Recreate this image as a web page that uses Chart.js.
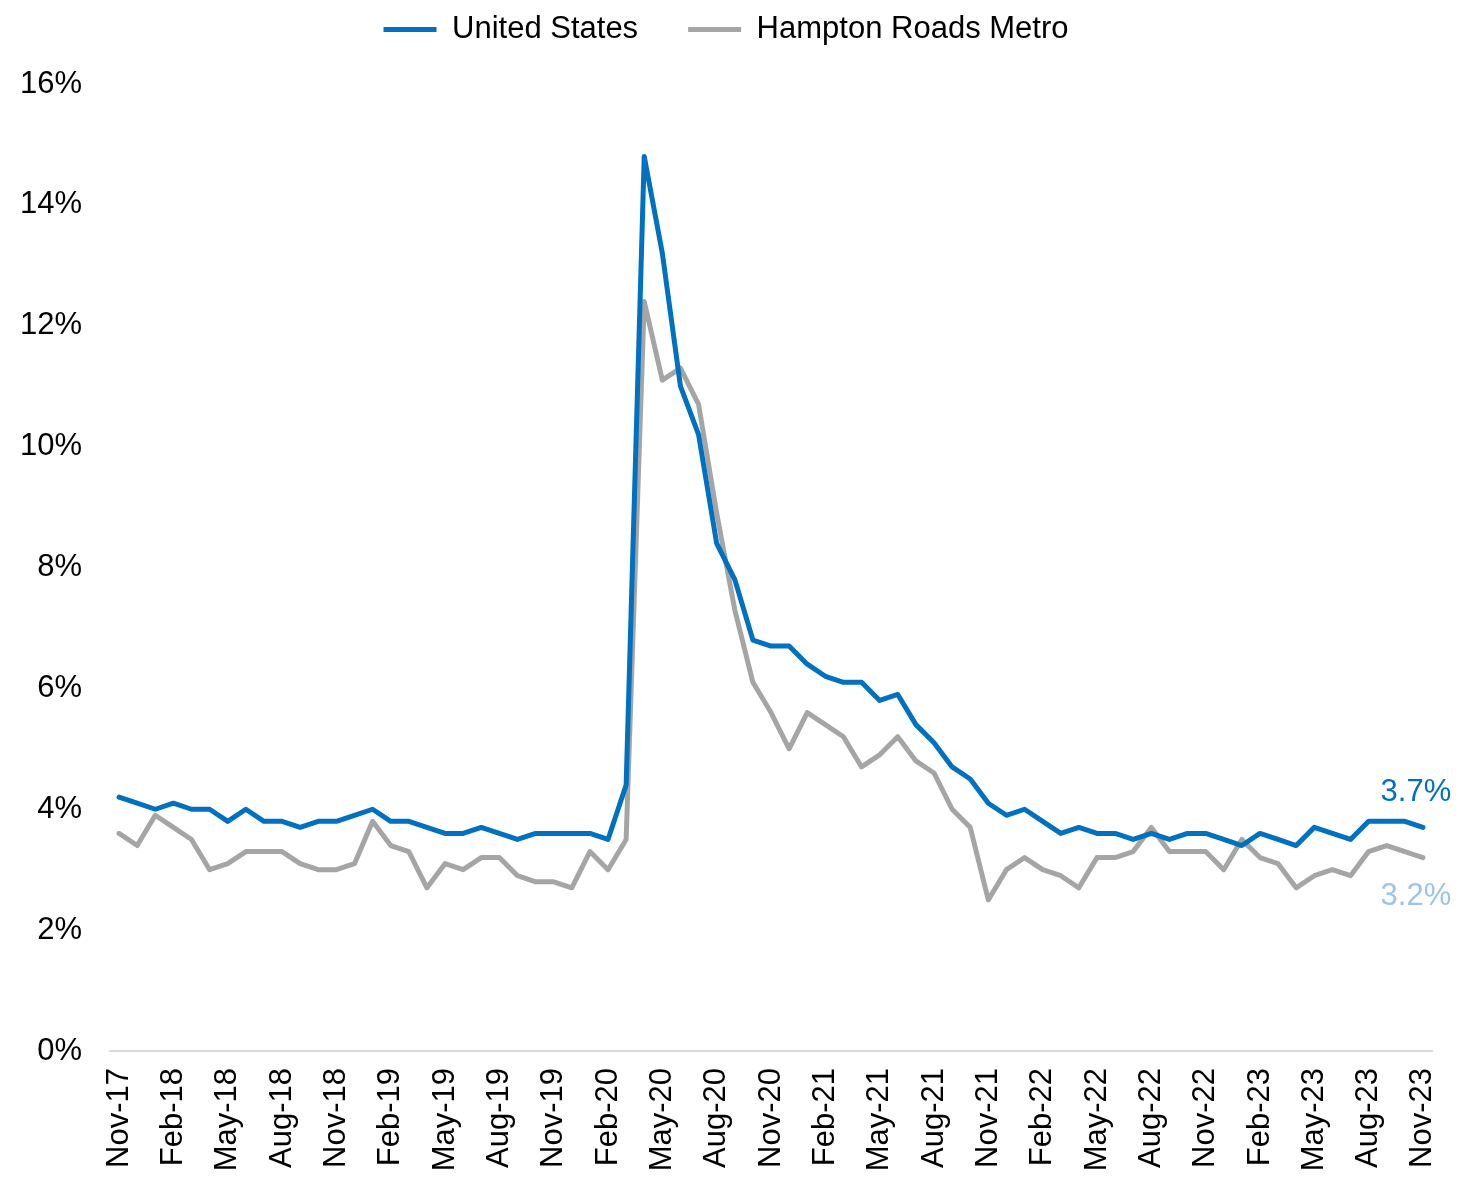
<!DOCTYPE html>
<html>
<head>
<meta charset="utf-8">
<title>Unemployment Rate: United States vs Hampton Roads Metro</title>
<script src="https://cdn.jsdelivr.net/npm/chart.js@4.4.1/dist/chart.umd.min.js"></script>
<style>
  html, body { margin: 0; padding: 0; background: #ffffff; }
  #wrap { width: 1457px; height: 1178px; position: relative; }
</style>
</head>
<body>
<div id="wrap"><canvas id="chart"></canvas></div>
<script>
// Monthly categories, Nov-17 through Nov-23
const months = [
  'Nov-17','Dec-17',
  'Jan-18','Feb-18','Mar-18','Apr-18','May-18','Jun-18','Jul-18','Aug-18','Sep-18','Oct-18','Nov-18','Dec-18',
  'Jan-19','Feb-19','Mar-19','Apr-19','May-19','Jun-19','Jul-19','Aug-19','Sep-19','Oct-19','Nov-19','Dec-19',
  'Jan-20','Feb-20','Mar-20','Apr-20','May-20','Jun-20','Jul-20','Aug-20','Sep-20','Oct-20','Nov-20','Dec-20',
  'Jan-21','Feb-21','Mar-21','Apr-21','May-21','Jun-21','Jul-21','Aug-21','Sep-21','Oct-21','Nov-21','Dec-21',
  'Jan-22','Feb-22','Mar-22','Apr-22','May-22','Jun-22','Jul-22','Aug-22','Sep-22','Oct-22','Nov-22','Dec-22',
  'Jan-23','Feb-23','Mar-23','Apr-23','May-23','Jun-23','Jul-23','Aug-23','Sep-23','Oct-23','Nov-23'
];

// Unemployment rate, percent
const unitedStates = [
  4.2, 4.1,
  4.0, 4.1, 4.0, 4.0, 3.8, 4.0, 3.8, 3.8, 3.7, 3.8, 3.8, 3.9,
  4.0, 3.8, 3.8, 3.7, 3.6, 3.6, 3.7, 3.6, 3.5, 3.6, 3.6, 3.6,
  3.6, 3.5, 4.4, 14.8, 13.2, 11.0, 10.2, 8.4, 7.8, 6.8, 6.7, 6.7,
  6.4, 6.2, 6.1, 6.1, 5.8, 5.9, 5.4, 5.1, 4.7, 4.5, 4.1, 3.9,
  4.0, 3.8, 3.6, 3.7, 3.6, 3.6, 3.5, 3.6, 3.5, 3.6, 3.6, 3.5,
  3.4, 3.6, 3.5, 3.4, 3.7, 3.6, 3.5, 3.8, 3.8, 3.8, 3.7
];

const hamptonRoads = [
  3.6, 3.4,
  3.9, 3.7, 3.5, 3.0, 3.1, 3.3, 3.3, 3.3, 3.1, 3.0, 3.0, 3.1,
  3.8, 3.4, 3.3, 2.7, 3.1, 3.0, 3.2, 3.2, 2.9, 2.8, 2.8, 2.7,
  3.3, 3.0, 3.5, 12.4, 11.1, 11.3, 10.7, 8.9, 7.3, 6.1, 5.6, 5.0,
  5.6, 5.4, 5.2, 4.7, 4.9, 5.2, 4.8, 4.6, 4.0, 3.7, 2.5, 3.0,
  3.2, 3.0, 2.9, 2.7, 3.2, 3.2, 3.3, 3.7, 3.3, 3.3, 3.3, 3.0,
  3.5, 3.2, 3.1, 2.7, 2.9, 3.0, 2.9, 3.3, 3.4, 3.3, 3.2
];

const seriesNames = ['United States', 'Hampton Roads Metro'];
const lineColors = ['#0070C0', '#A5A5A5'];
const endLabelColors = ['#0070C0', '#9DC3E6'];
const endLabelOffsets = [-35, 39];

const FONT = 'Arial, "Liberation Sans", sans-serif';

// Extra room under the legend before the plot starts
const legendSpacing = {
  id: 'legendSpacing',
  beforeInit(chart) {
    const legend = chart.legend;
    if (!legend) return;
    const fit = legend.fit;
    legend.fit = function () {
      fit.call(this);
      this.height += 29;
    };
  }
};

// Writes the latest value next to the end of each line
const endLabels = {
  id: 'endLabels',
  afterDatasetsDraw(chart) {
    const ctx = chart.ctx;
    ctx.save();
    ctx.font = '31px ' + FONT;
    ctx.textAlign = 'center';
    ctx.textBaseline = 'middle';
    chart.data.datasets.forEach((ds, i) => {
      const meta = chart.getDatasetMeta(i);
      const last = meta.data[meta.data.length - 1];
      const v = ds.data[ds.data.length - 1];
      ctx.fillStyle = endLabelColors[i];
      ctx.fillText(v.toFixed(1) + '%', last.x - 7, last.y + endLabelOffsets[i]);
    });
    ctx.restore();
  }
};

new Chart(document.getElementById('chart'), {
  type: 'line',
  data: {
    labels: months,
    datasets: [
      {
        label: seriesNames[0],
        data: unitedStates,
        borderColor: lineColors[0],
        backgroundColor: lineColors[0],
        borderWidth: 5,
        pointRadius: 0,
        tension: 0,
        borderJoinStyle: 'round',
        borderCapStyle: 'round'
      },
      {
        label: seriesNames[1],
        data: hamptonRoads,
        borderColor: lineColors[1],
        backgroundColor: lineColors[1],
        borderWidth: 5,
        pointRadius: 0,
        tension: 0,
        borderJoinStyle: 'round',
        borderCapStyle: 'round'
      }
    ]
  },
  options: {
    responsive: true,
    maintainAspectRatio: false,
    animation: false,
    layout: { padding: { top: -38, left: 20, right: 25, bottom: 0 } },
    plugins: {
      legend: {
        position: 'top',
        align: 'center',
        labels: {
          usePointStyle: true,
          pointStyle: 'line',
          pointStyleWidth: 53,
          boxHeight: 5,
          padding: 50,
          color: '#000000',
          font: { family: FONT, size: 31 }
        }
      },
      tooltip: { enabled: false }
    },
    scales: {
      x: {
        offset: true,
        grid: { display: false, drawTicks: false },
        border: { display: true, color: '#D9D9D9', width: 2 },
        ticks: {
          autoSkip: false,
          maxRotation: 90,
          minRotation: 90,
          padding: 17,
          color: '#000000',
          font: { family: FONT, size: 31 },
          callback: function (value, index) {
            return index % 3 === 0 ? this.getLabelForValue(value) : '';
          }
        },
        afterFit(scale) {
          scale.height = 127;
          scale.paddingLeft = 0;
          scale.paddingRight = 25;
        }
      },
      y: {
        min: 0,
        max: 16,
        grid: { display: false, drawTicks: false },
        border: { display: false },
        ticks: {
          stepSize: 2,
          padding: 28,
          color: '#000000',
          font: { family: FONT, size: 31 },
          callback: (v) => v + '%'
        },
        afterFit(scale) {
          scale.width = 90;
          scale.paddingTop = 84;
          scale.paddingBottom = 0;
        }
      }
    }
  },
  plugins: [legendSpacing, endLabels]
});
</script>
</body>
</html>
